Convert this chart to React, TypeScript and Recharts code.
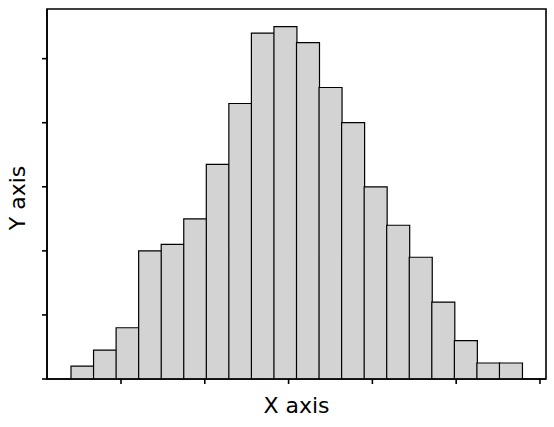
import React from "react";
import { ComposedChart, Bar, XAxis, YAxis, ReferenceArea, Label } from "recharts";

// histogram: 20 bins, 1000 samples
const binStarts = [
  -2.6, -2.33, -2.06, -1.79, -1.53, -1.26, -0.99, -0.72, -0.45, -0.18,
  0.09, 0.36, 0.63, 0.9, 1.17, 1.44, 1.7, 1.97, 2.24, 2.51,
];
const counts = [4, 9, 16, 40, 42, 50, 67, 86, 108, 110, 105, 91, 80, 60, 48, 38, 24, 12, 5, 5];
const xTicks = [-2, -1, 0, 1, 2, 3];
const yTicks = [0, 20, 40, 60, 80, 100];
const xDomain = [-2.883, 3.072];
const yDomain = [0, 115.5];

const data = binStarts.map((start, i) => ({ bin: String(start), x: start, count: counts[i] }));

const font = "DejaVu Sans, sans-serif";
const axisStroke = { stroke: "#000", strokeWidth: 1.6 };
const NoLabel = () => <g />;

const YTitle = () => (
  <text x={25} y={198} transform="rotate(-90, 25, 198)" textAnchor="middle" fontSize={22} fontFamily={font} fill="#000">
    Y axis
  </text>
);

export default function App() {
  return (
    <div style={{ position: "absolute", left: 0, top: 0 }}>
      <ComposedChart
        width={554}
        height={427}
        data={data}
        barCategoryGap={0}
        margin={{ top: 9, right: 8, bottom: 0, left: 0 }}
        style={{ fontFamily: font }}
      >
        <XAxis xAxisId="cat" dataKey="bin" type="category" hide height={0} padding={{ left: 24, right: 24 }} />
        <XAxis
          xAxisId="num"
          dataKey="x"
          type="number"
          domain={xDomain}
          allowDataOverflow
          ticks={xTicks}
          tick={NoLabel}
          tickSize={5}
          tickLine={axisStroke}
          axisLine={axisStroke}
          height={48}
          label={{ value: "X axis", position: "insideBottom", offset: 14, fontSize: 22, fill: "#000", fontFamily: font }}
        />
        <YAxis
          yAxisId="left"
          type="number"
          domain={yDomain}
          allowDataOverflow
          ticks={yTicks}
          tick={NoLabel}
          tickSize={5}
          tickLine={axisStroke}
          axisLine={axisStroke}
          width={47}
        >
          <Label content={YTitle} />
        </YAxis>
        <Bar
          xAxisId="cat"
          yAxisId="left"
          dataKey="count"
          fill="#d3d3d3"
          stroke="#000"
          strokeWidth={1.2}
          isAnimationActive={false}
        />
        <ReferenceArea
          xAxisId="num"
          yAxisId="left"
          x1={xDomain[0]}
          x2={xDomain[1]}
          y1={yDomain[0]}
          y2={yDomain[1]}
          fill="none"
          stroke="#000"
          strokeWidth={1.6}
          ifOverflow="visible"
        />
      </ComposedChart>
    </div>
  );
}
